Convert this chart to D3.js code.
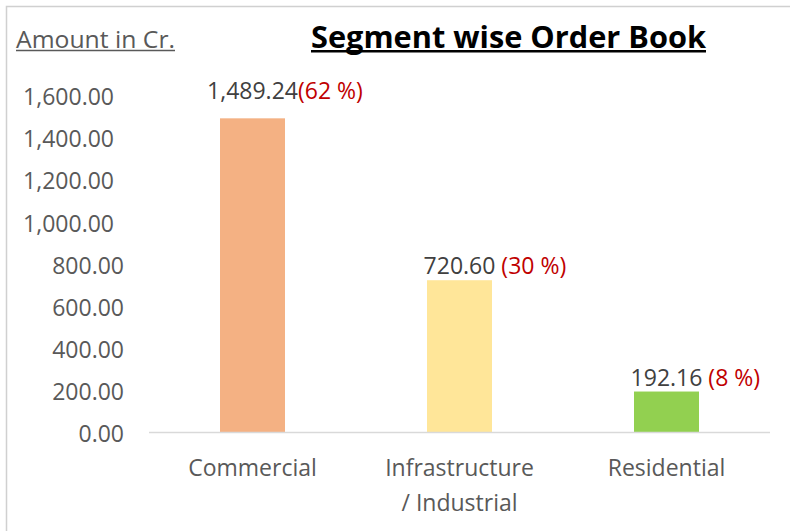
<!DOCTYPE html>
<html>
<head>
<meta charset="utf-8">
<script src="https://cdn.jsdelivr.net/npm/d3@7"></script>
<style>
  html, body { margin: 0; padding: 0; background: #fff; }
  svg { display: block; }
  text { font-family: "Open Sans", "Noto Sans", sans-serif; }
</style>
</head>
<body>
<script>
// ---- data ----
const categories = ["Commercial", "Infrastructure / Industrial", "Residential"];
const values = [1489.24, 720.60, 192.16];
const percentLabels = ["(62 %)", " (30 %)", " (8 %)"];
const barColors = ["#F4B183", "#FFE699", "#92D050"];
const yTicks = [0, 200, 400, 600, 800, 1000, 1200, 1400, 1600];
const titleText = "Segment wise Order Book";
const unitText = "Amount in Cr.";

// ---- layout ----
const W = 790, H = 531;
const svg = d3.select("body").append("svg").attr("width", W).attr("height", H);

// frame
svg.append("path")
  .attr("d", `M6.5,${H} L6.5,6.5 L${W},6.5`)
  .attr("fill", "none").attr("stroke", "#d0d0d0").attr("stroke-width", 1.5);

const plotLeft = 149, plotRight = 770, baseY = 432, topY = 95;

const x = d3.scaleBand().domain(categories).range([plotLeft, plotRight])
  .paddingInner(0.686).paddingOuter(0.343);
const y = d3.scaleLinear().domain([0, 1600]).range([baseY, topY]);

// y axis labels
const yAxis = d3.axisLeft(y).tickValues(yTicks).tickFormat(d3.format(",.2f"))
  .tickSize(0).tickPadding(25);
const gy = svg.append("g").attr("transform", `translate(${plotLeft},0)`).call(yAxis);
gy.select(".domain").remove();
gy.selectAll("text")
  .attr("fill", "#595959").attr("font-size", 23).attr("dy", "0.42em")
  .attr("x", d => d >= 1000 ? -35 : -25)
  .style("font-family", "'Open Sans', sans-serif");

// bars
svg.append("g").selectAll("rect").data(values).join("rect")
  .attr("x", (d, i) => x(categories[i]))
  .attr("width", x.bandwidth())
  .attr("y", d => y(d))
  .attr("height", d => y(0) - y(d))
  .attr("fill", (d, i) => barColors[i]);

// x axis
const xAxis = d3.axisBottom(x).tickSize(0).tickPadding(28);
const gx = svg.append("g").attr("transform", `translate(0,${baseY})`).call(xAxis);
gx.select(".domain").attr("stroke", "#d9d9d9").attr("stroke-width", 1.6)
  .attr("d", `M${plotLeft},0.5H${plotRight}`);
gx.selectAll("text").each(function(d) {
  const t = d3.select(this);
  t.text(null).attr("fill", "#595959").attr("font-size", 23)
    .style("font-family", "'Open Sans', sans-serif");
  const parts = d.split(" / ");
  const lines = parts.length > 1 ? [parts[0], "/ " + parts[1]] : parts;
  lines.forEach((ln, k) => {
    t.append("tspan").attr("x", 0).attr("dy", k === 0 ? "0.71em" : "35px").text(ln);
  });
});

// data labels
const fmt = d3.format(",.2f");
values.forEach((v, i) => {
  const cx = x(categories[i]) + x.bandwidth() / 2;
  const ly = y(v) - (i === 0 ? 19 : 6);
  const vt = svg.append("text")
    .attr("x", cx).attr("y", ly)
    .attr("text-anchor", "middle")
    .attr("font-size", 23).attr("fill", "#404040")
    .text(fmt(v));
  const w = vt.node().getComputedTextLength();
  svg.append("text")
    .attr("x", cx + w / 2).attr("y", ly)
    .attr("font-size", 23).attr("fill", "#C00000")
    .style("white-space", "pre")
    .text(percentLabels[i]);
});

// unit label (underlined)
svg.append("text")
  .attr("x", 16).attr("y", 48)
  .attr("font-size", 23).attr("fill", "#595959")
  .attr("textLength", 159).attr("lengthAdjust", "spacingAndGlyphs")
  .text(unitText);
svg.append("line").attr("x1", 16).attr("x2", 175).attr("y1", 50.5).attr("y2", 50.5)
  .attr("stroke", "#595959").attr("stroke-width", 1.3);

// title (bold, underlined)
svg.append("text")
  .attr("x", 508.5).attr("y", 48)
  .attr("text-anchor", "middle")
  .attr("font-size", 31).attr("font-weight", "bold").attr("fill", "#000")
  .attr("textLength", 395).attr("lengthAdjust", "spacingAndGlyphs")
  .text(titleText);
svg.append("line").attr("x1", 311).attr("x2", 706).attr("y1", 51.3).attr("y2", 51.3)
  .attr("stroke", "#000").attr("stroke-width", 2.6);
</script>
</body>
</html>
